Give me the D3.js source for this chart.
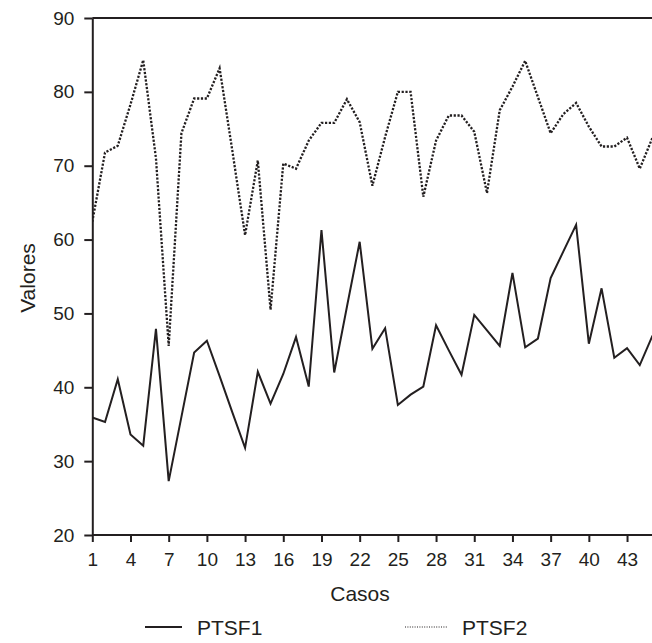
<!DOCTYPE html>
<html>
<head>
<meta charset="utf-8">
<script src="https://cdn.jsdelivr.net/npm/d3@7"></script>
<style>
  body { margin: 0; background: #fff; }
  text { font-family: "Liberation Sans", Arial, sans-serif; fill: #231f20; }
</style>
</head>
<body>
<div id="chart"></div>
<script>
// Cases 1..45 and the two series
const cases = d3.range(1, 46);
const ptsf1 = [35.9, 35.3, 41.1, 33.6, 32.1, 47.9, 27.3, 36.0, 44.7, 46.3,
  41.5, 36.6, 31.8, 42.1, 37.8, 41.8, 46.8, 40.1, 61.3, 42.0,
  50.9, 59.7, 45.2, 48.0, 37.6, 39.0, 40.1, 48.4, 45.0, 41.7,
  49.8, 47.7, 45.6, 55.5, 45.4, 46.6, 54.8, 58.4, 62.0, 45.9,
  53.4, 44.0, 45.3, 43.0, 47.0];
const ptsf2 = [62.4, 71.8, 72.7, 78.3, 84.3, 71.0, 45.6, 74.4, 79.1, 79.1,
  83.2, 72.0, 60.6, 70.7, 50.5, 70.3, 69.6, 73.4, 75.8, 75.8,
  79.0, 75.9, 67.3, 73.9, 80.0, 80.0, 65.8, 73.4, 76.8, 76.8,
  74.6, 66.3, 77.5, 80.7, 84.2, 79.3, 74.4, 77.0, 78.5, 75.3,
  72.6, 72.6, 73.8, 69.6, 73.8];
const yTicks = [20, 30, 40, 50, 60, 70, 80, 90];
const xTicks = [1, 4, 7, 10, 13, 16, 19, 22, 25, 28, 31, 34, 37, 40, 43];
const seriesNames = ["PTSF1", "PTSF2"];

const W = 652, H = 643;
const svg = d3.select("#chart").append("svg")
  .attr("width", W).attr("height", H);

const x = d3.scaleLinear().domain([1, 45]).range([92.3, 652.5]);
const y = d3.scaleLinear().domain([20, 90]).range([535, 18]);
const ink = "#231f20";

// clip so the lines stop at the plot edge
svg.append("clipPath").attr("id", "clip")
  .append("rect").attr("x", 92).attr("y", 10).attr("width", W - 92).attr("height", 530);

const line = d3.line().x((d, i) => x(cases[i])).y(d => y(d));

const plot = svg.append("g").attr("clip-path", "url(#clip)");
plot.append("path").datum(ptsf2)
  .attr("fill", "none").attr("stroke", ink)
  .attr("stroke-width", 2.3).attr("stroke-dasharray", "2.2,1.6")
  .attr("d", line);
plot.append("path").datum(ptsf1)
  .attr("fill", "none").attr("stroke", ink)
  .attr("stroke-width", 2)
  .attr("d", line);

// top frame line
svg.append("line")
  .attr("x1", x(1)).attr("x2", W).attr("y1", y(90)).attr("y2", y(90))
  .attr("stroke", ink).attr("stroke-width", 2);

// y axis
const yAxis = svg.append("g")
  .attr("transform", `translate(${x(1)},0)`)
  .call(d3.axisLeft(y).tickValues(yTicks).tickSize(8).tickPadding(10).tickSizeOuter(0));
yAxis.select(".domain").attr("stroke", ink).attr("stroke-width", 2);
yAxis.selectAll(".tick line").attr("stroke", ink).attr("stroke-width", 2);
yAxis.selectAll("text").style("font-size", "19px").attr("fill", ink);

// x axis
const xAxis = svg.append("g")
  .attr("transform", `translate(0,${y(20)})`)
  .call(d3.axisBottom(x).tickValues(xTicks).tickSize(7).tickPadding(11).tickSizeOuter(0));
xAxis.select(".domain").attr("stroke", ink).attr("stroke-width", 2)
  .attr("d", `M${x(1)},0H${W}`);
xAxis.selectAll(".tick line").attr("stroke", ink).attr("stroke-width", 2);
xAxis.selectAll("text").style("font-size", "19px").attr("fill", ink);

// axis titles
svg.append("text")
  .attr("x", 360).attr("y", 601)
  .attr("text-anchor", "middle").style("font-size", "21px")
  .text("Casos");
svg.append("text")
  .attr("transform", "translate(35,278) rotate(-90)")
  .attr("text-anchor", "middle").style("font-size", "21px")
  .text("Valores");

// legend
const legend = svg.append("g");
legend.append("line")
  .attr("x1", 145).attr("x2", 182).attr("y1", 627).attr("y2", 627)
  .attr("stroke", ink).attr("stroke-width", 2);
legend.append("text").attr("x", 197).attr("y", 635)
  .style("font-size", "21px").text(seriesNames[0]);
legend.append("line")
  .attr("x1", 405).attr("x2", 447).attr("y1", 627).attr("y2", 627)
  .attr("stroke", ink).attr("stroke-width", 1.2).attr("stroke-dasharray", "1,1.4");
legend.append("text").attr("x", 462).attr("y", 635)
  .style("font-size", "21px").text(seriesNames[1]);
</script>
</body>
</html>
